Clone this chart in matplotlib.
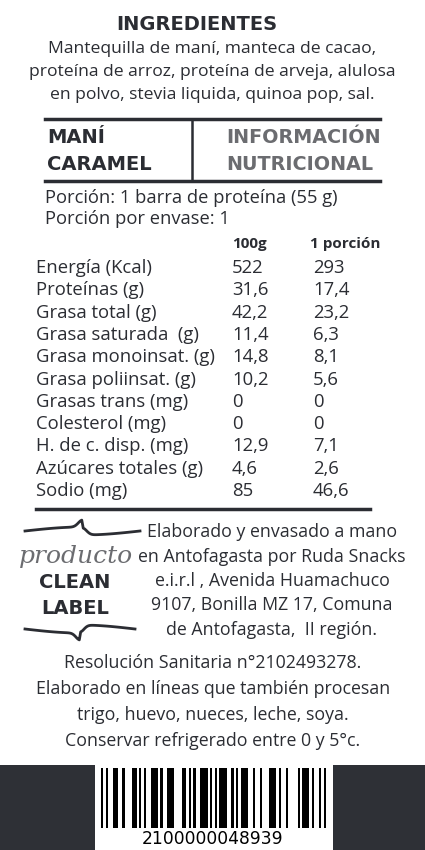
import numpy as np
import matplotlib
matplotlib.use("Agg")
import matplotlib.pyplot as plt

DARK = "#2b2d33"
GRAY = "#6b6c70"

INGREDIENT_LINES = [
    "Mantequilla de maní, manteca de cacao,",
    "proteína de arroz, proteína de arveja, alulosa",
    "en polvo, stevia liquida, quinoa pop, sal.",
]
NUTRIENTS = ["Energía (Kcal)", "Proteínas (g)", "Grasa total (g)", "Grasa saturada  (g)",
             "Grasa monoinsat. (g)", "Grasa poliinsat. (g)", "Grasas trans (mg)",
             "Colesterol (mg)", "H. de c. disp. (mg)", "Azúcares totales (g)", "Sodio (mg)"]
PER_100G = ["522", "31,6", "42,2", "11,4", "14,8", "10,2", "0", "0", "12,9", "4,6", "85"]
PER_PORTION = ["293", "17,4", "23,2", "6,3", "8,1", "5,6", "0", "0", "7,1", "2,6", "46,6"]
MAKER_LINES = [
    "Elaborado y envasado a mano",
    "en Antofagasta por Ruda Snacks",
    "e.i.r.l , Avenida Huamachuco",
    "9107, Bonilla MZ 17, Comuna",
    "de Antofagasta,  II región.",
]
FOOTER_LINES = [
    "Resolución Sanitaria n°2102493278.",
    "Elaborado en líneas que también procesan",
    "trigo, huevo, nueces, leche, soya.",
    "Conservar refrigerado entre 0 y 5°c.",
]
BARCODE = "2100000048939"

fig = plt.figure(figsize=(4.25, 8.5), dpi=100)
ax = fig.add_axes([0, 0, 1, 1])
ax.set_xlim(0, 425)
ax.set_ylim(850, 0)
ax.axis("off")

FONT = "Open Sans"
BOLD = "DejaVu Sans"
ax.text(197, 24, "INGREDIENTES", ha="center", va="center", fontsize=14,
        fontweight="bold", color=DARK, family=BOLD)
for i, line in enumerate(INGREDIENT_LINES):
    ax.text(212, 49 + i * 23, line, ha="center", va="center", fontsize=12.6,
            color=DARK, family=FONT)

# header box
ax.plot([45, 380], [119, 119], color=DARK, lw=2.5)
ax.plot([45, 380], [181, 181], color=DARK, lw=2.5)
ax.plot([192, 192], [119, 181], color=DARK, lw=1.8)
ax.text(47, 137, "MANÍ", va="center", fontsize=14, fontweight="bold", color=DARK, family=BOLD)
ax.text(47, 164, "CARAMEL", va="center", fontsize=14, fontweight="bold", color=DARK, family=BOLD)
ax.text(226, 137, "INFORMACIÓN", va="center", fontsize=13.8, fontweight="bold", color=GRAY, family=BOLD)
ax.text(226, 164, "NUTRICIONAL", va="center", fontsize=13.8, fontweight="bold", color=GRAY, family=BOLD)

ax.text(45, 198, "Porción: 1 barra de proteína (55 g)", va="center", fontsize=13.2, color=DARK, family=FONT)
ax.text(45, 219, "Porción por envase: 1", va="center", fontsize=13.2, color=DARK, family=FONT)
ax.text(232, 244, "100g", va="center", fontsize=11, fontweight="bold", color=DARK, family=FONT)
ax.text(310, 244, "1 porción", va="center", fontsize=11, fontweight="bold", color=DARK, family=FONT)

for i, (n, a, b) in enumerate(zip(NUTRIENTS, PER_100G, PER_PORTION)):
    y = 268 + i * 22.3
    ax.text(36, y, n, va="center", fontsize=13.3, color=DARK, family=FONT)
    ax.text(232, y, a, va="center", fontsize=13.3, color=DARK, family=FONT)
    ax.text(313, y, b, va="center", fontsize=13.3, color=DARK, family=FONT)
ax.plot([36, 370], [509, 509], color=DARK, lw=2.5)

# clean label logo: wavy brackets above and below
t = np.linspace(0, 1, 80)
wave = 4 * np.sin(np.pi * t) * np.sign(0.5 - t) + 7 * np.exp(-((t - 0.5) / 0.05) ** 2)
ax.plot(25 + 115 * t, 531 - wave, color=DARK, lw=2)
ax.plot(25 + 110 * t, 629 + wave, color=DARK, lw=2)
ax.text(76, 556, "producto", ha="center", va="center", fontsize=18, style="italic",
        color=GRAY, family="DejaVu Serif")
ax.text(75, 582, "CLEAN", ha="center", va="center", fontsize=14, fontweight="bold", color=DARK, family=BOLD)
ax.text(75, 608, "LABEL", ha="center", va="center", fontsize=14, fontweight="bold", color=DARK, family=BOLD)
for i, line in enumerate(MAKER_LINES):
    ax.text(272, 532 + i * 24.5, line, ha="center", va="center", fontsize=12.8, color=DARK, family=FONT)
for i, line in enumerate(FOOTER_LINES):
    ax.text(213, 663 + i * 26, line, ha="center", va="center", fontsize=12.8, color=DARK,
            family=FONT)

# barcode band
ax.add_patch(plt.Rectangle((0, 765), 425, 85, color="#2e3036", lw=0))
ax.add_patch(plt.Rectangle((95, 765), 238, 85, color="white", lw=0))

L = ["0001101", "0011001", "0010011", "0111101", "0100011", "0110001", "0101111", "0111011", "0110111", "0001011"]
G = ["0100111", "0110011", "0011011", "0100001", "0011101", "0111001", "0000101", "0010001", "0001001", "0010111"]
R = ["1110010", "1100110", "1101100", "1000010", "1011100", "1001110", "1010000", "1000100", "1001000", "1110100"]
PAR = ["LLLLLL", "LLGLGG", "LLGGLG", "LLGGGL", "LGLLGG", "LGGLLG", "LGGGLL", "LGLGLG", "LGLGGL", "LGGLGL"]
d = [int(c) for c in BARCODE]
bits = "101"
for k, c in enumerate(d[1:7]):
    bits += (L if PAR[d[0]][k] == "L" else G)[c]
bits += "01010"
for c in d[7:]:
    bits += R[c]
bits += "101"
mw = 225 / len(bits)
x0 = 101
for k, bit in enumerate(bits):
    if bit == "1":
        ax.add_patch(plt.Rectangle((x0 + k * mw, 768), mw, 60, color="black", lw=0))
ax.text(213, 839, BARCODE, ha="center", va="center", fontsize=12.3, color="black", family="DejaVu Sans")

fig.savefig("out.png", dpi=100)
